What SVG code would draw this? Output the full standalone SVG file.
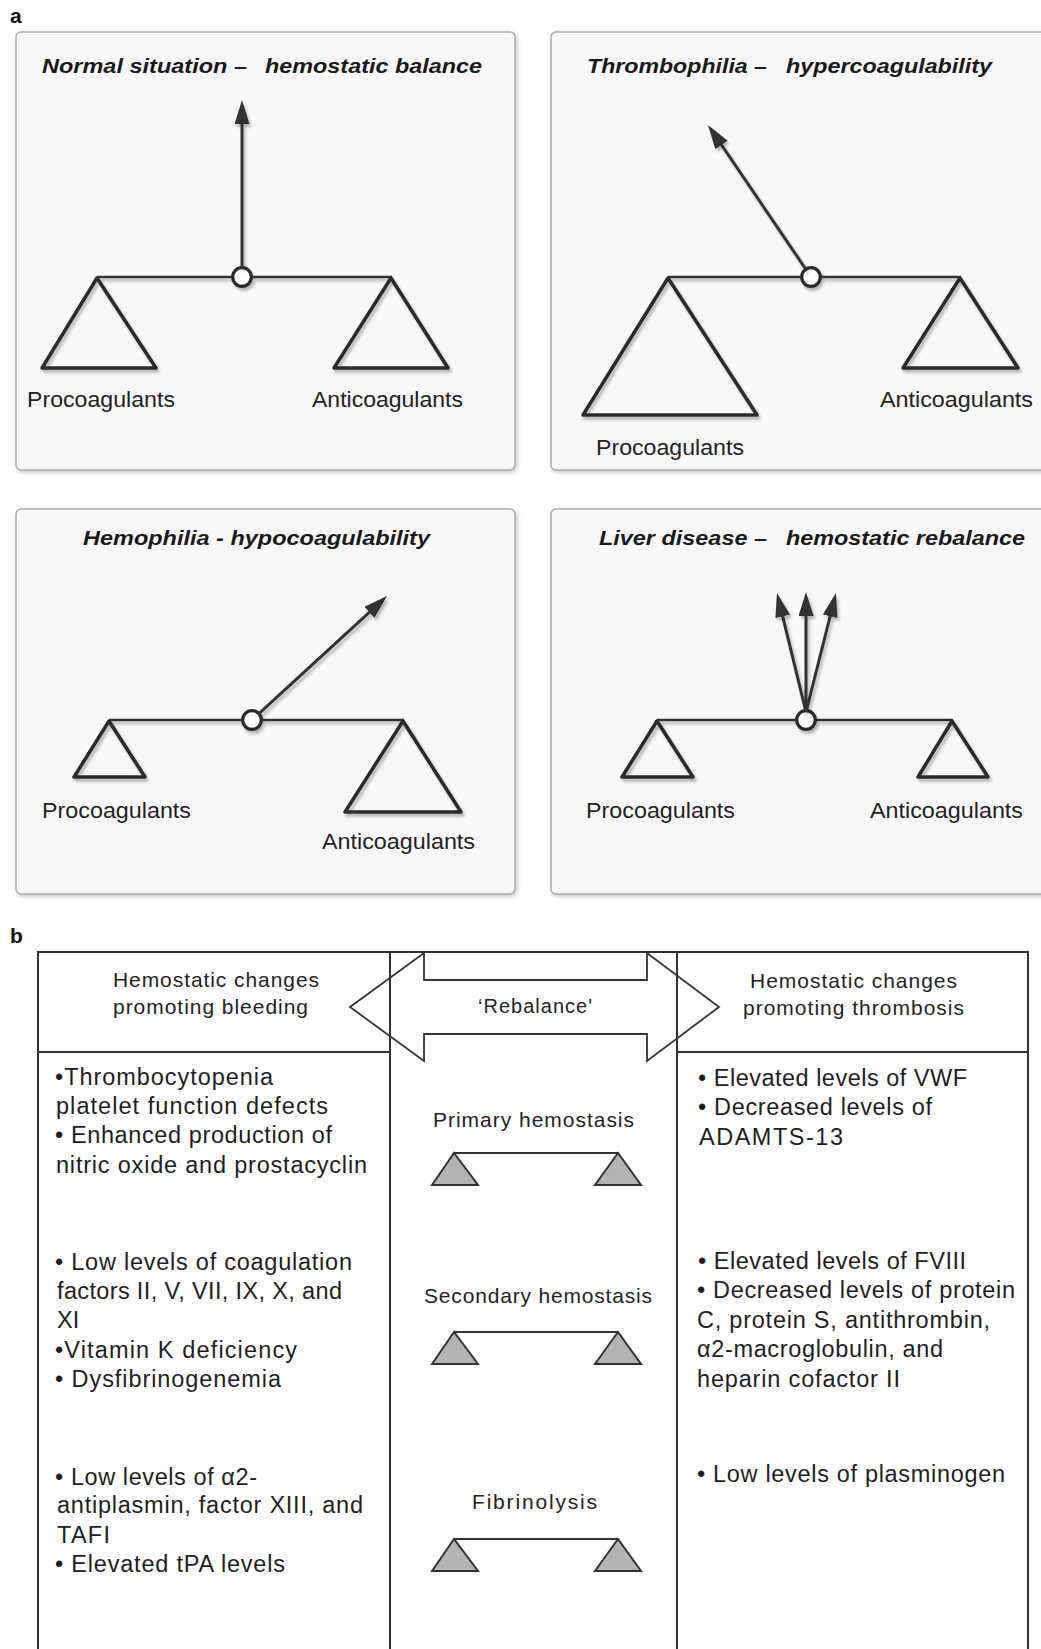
<svg xmlns="http://www.w3.org/2000/svg" width="1041" height="1649" viewBox="0 0 1041 1649">
<defs>
<filter id="psh" x="-5%" y="-5%" width="112%" height="112%"><feDropShadow dx="1.5" dy="2" stdDeviation="2" flood-color="#000" flood-opacity="0.22"/></filter>
<filter id="dsh" x="-20%" y="-20%" width="150%" height="150%"><feDropShadow dx="2" dy="3" stdDeviation="1.8" flood-color="#000" flood-opacity="0.28"/></filter>
<marker id="ah" viewBox="0 0 24 15" refX="18" refY="7.5" markerWidth="24" markerHeight="15" markerUnits="userSpaceOnUse" orient="auto"><path d="M0,0 L24,7.5 L0,15 Z" fill="#333"/></marker>
</defs>
<style>
.panel{fill:#f8f8f8;stroke:#a9a9a9;stroke-width:1.5}
.tri{fill:none;stroke:#2b2b2b;stroke-width:3.5;stroke-linejoin:round}
.beam{stroke:#333;stroke-width:2.4;fill:none}
.piv{fill:#fff;stroke:#2b2b2b;stroke-width:3.2}
.arr{stroke:#333;stroke-width:3;fill:none;marker-end:url(#ah)}
.ttl{font-family:"Liberation Sans",Arial,sans-serif;font-weight:bold;font-style:italic;font-size:21px;fill:#1a1a1a}
.lbl{font-family:"Liberation Sans",Arial,sans-serif;font-size:22px;fill:#222}
.tag{font-family:"Liberation Sans",Arial,sans-serif;font-weight:bold;font-size:21px;fill:#111}
.tbl{stroke:#333;stroke-width:2;fill:none}
.dbl{stroke:#333;stroke-width:1.8;fill:none;stroke-linejoin:miter}
.hd{font-family:"Liberation Sans",Arial,sans-serif;font-size:21px;fill:#222}
.bd{font-family:"Liberation Sans",Arial,sans-serif;font-size:23.5px;fill:#1e1e1e}
.mtri{fill:#b3b3b3;stroke:#333;stroke-width:2}
.mbeam{stroke:#333;stroke-width:2;fill:none}
</style>
<rect x="0" y="0" width="1041" height="1649" fill="#fff"/>

<text class="tag" x="10" y="23">a</text>
<text class="tag" x="10" y="943">b</text>

<!-- Panel 1 -->
<g id="panel-normal">
<rect class="panel" x="16" y="32" width="499" height="438" rx="5" filter="url(#psh)"/>
<text class="ttl" x="42" y="73" textLength="205" lengthAdjust="spacingAndGlyphs">Normal situation –</text>
<text class="ttl" x="265" y="73" textLength="217" lengthAdjust="spacingAndGlyphs">hemostatic balance</text>
<g filter="url(#dsh)">
<path class="beam" d="M97,277 H392"/>
<path class="tri" d="M97,278 L42,368 L156,368 Z"/>
<path class="tri" d="M391,278 L334,368 L448,368 Z"/>
<circle class="piv" cx="242" cy="277" r="9.3"/>
</g>
<text class="lbl" x="27" y="407" textLength="148" lengthAdjust="spacingAndGlyphs">Procoagulants</text>
<text class="lbl" x="312" y="407" textLength="151" lengthAdjust="spacingAndGlyphs">Anticoagulants</text>
</g>

<!-- Panel 2 -->
<g id="panel-thrombophilia">
<rect class="panel" x="551" y="32" width="499" height="438" rx="5" filter="url(#psh)"/>
<text class="ttl" x="587" y="73" textLength="180" lengthAdjust="spacingAndGlyphs">Thrombophilia –</text>
<text class="ttl" x="786" y="73" textLength="206" lengthAdjust="spacingAndGlyphs">hypercoagulability</text>
<g filter="url(#dsh)">
<path class="beam" d="M668,277 H961"/>
<path class="tri" d="M668,278 L583,415 L757,415 Z"/>
<path class="tri" d="M960,278 L903,368 L1018,368 Z"/>
<circle class="piv" cx="811" cy="277" r="9.3"/>
</g>
<text class="lbl" x="880" y="407" textLength="153" lengthAdjust="spacingAndGlyphs">Anticoagulants</text>
<text class="lbl" x="596" y="455" textLength="148" lengthAdjust="spacingAndGlyphs">Procoagulants</text>
</g>

<!-- Panel 3 -->
<g id="panel-hemophilia">
<rect class="panel" x="16" y="509" width="499" height="385" rx="5" filter="url(#psh)"/>
<text class="ttl" x="83" y="545" textLength="347" lengthAdjust="spacingAndGlyphs">Hemophilia - hypocoagulability</text>
<g filter="url(#dsh)">
<path class="beam" d="M109,720 H404"/>
<path class="tri" d="M109,721 L74,777 L145,777 Z"/>
<path class="tri" d="M403,721 L345,812 L461,812 Z"/>
<circle class="piv" cx="252" cy="720" r="9.3"/>
</g>
<text class="lbl" x="42" y="818" textLength="149" lengthAdjust="spacingAndGlyphs">Procoagulants</text>
<text class="lbl" x="322" y="849" textLength="153" lengthAdjust="spacingAndGlyphs">Anticoagulants</text>
</g>

<!-- Panel 4 -->
<g id="panel-liver">
<rect class="panel" x="551" y="509" width="499" height="385" rx="5" filter="url(#psh)"/>
<text class="ttl" x="599" y="545" textLength="168" lengthAdjust="spacingAndGlyphs">Liver disease –</text>
<text class="ttl" x="786" y="545" textLength="239" lengthAdjust="spacingAndGlyphs">hemostatic rebalance</text>
<g filter="url(#dsh)">
<path class="beam" d="M657,720 H953"/>
<path class="tri" d="M657,721 L622,777 L693,777 Z"/>
<path class="tri" d="M952,721 L918,777 L988,777 Z"/>
<circle class="piv" cx="806" cy="720" r="9.3"/>
</g>
<text class="lbl" x="586" y="818" textLength="149" lengthAdjust="spacingAndGlyphs">Procoagulants</text>
<text class="lbl" x="870" y="818" textLength="153" lengthAdjust="spacingAndGlyphs">Anticoagulants</text>
</g>

<!-- Part b table -->
<g id="table">
<path class="tbl" d="M38,952 H1028 M38,951 V1660 M390,952 V1660 M677,952 V1660 M1028,951 V1660 M38,1052 H390 M677,1052 H1028"/>
</g>

<g id="header-bleeding">
<text class="hd" x="113" y="987" textLength="206">Hemostatic changes</text>
<text class="hd" x="113" y="1014" textLength="195">promoting bleeding</text>
</g>
<g id="header-thrombosis">
<text class="hd" x="750" y="988" textLength="207">Hemostatic changes</text>
<text class="hd" x="743" y="1015" textLength="221">promoting thrombosis</text>
</g>
<g id="rebalance">
<text class="hd" x="478" y="1013" textLength="114" style="font-size:20px">‘Rebalance'</text>
</g>

<g id="primary-hemostasis">
<text class="hd" x="433" y="1127" textLength="201">Primary hemostasis</text>
<path class="mbeam" d="M454,1153 H618"/>
<path class="mtri" d="M454,1153 L432,1185 L478,1185 Z"/>
<path class="mtri" d="M618,1153 L595,1185 L641,1185 Z"/>
</g>
<g id="secondary-hemostasis">
<text class="hd" x="424" y="1303" textLength="228">Secondary hemostasis</text>
<path class="mbeam" d="M454,1332 H618"/>
<path class="mtri" d="M454,1332 L432,1364 L478,1364 Z"/>
<path class="mtri" d="M618,1332 L595,1364 L641,1364 Z"/>
</g>
<g id="fibrinolysis">
<text class="hd" x="472" y="1509" textLength="125">Fibrinolysis</text>
<path class="mbeam" d="M454,1539 H618"/>
<path class="mtri" d="M454,1539 L432,1571 L478,1571 Z"/>
<path class="mtri" d="M618,1539 L595,1571 L641,1571 Z"/>
</g>

<g id="bleeding-primary">
<text class="bd" x="55" y="1085" textLength="218">•Thrombocytopenia</text>
<text class="bd" x="56" y="1114" textLength="272">platelet function defects</text>
<text class="bd" x="55" y="1143" textLength="277">• Enhanced production of</text>
<text class="bd" x="56" y="1173" textLength="311">nitric oxide and prostacyclin</text>
</g>
<g id="bleeding-secondary">
<text class="bd" x="55" y="1270" textLength="297">• Low levels of coagulation</text>
<text class="bd" x="57" y="1299" textLength="285">factors II, V, VII, IX, X, and</text>
<text class="bd" x="57" y="1328">XI</text>
<text class="bd" x="55" y="1358" textLength="242">•Vitamin K deficiency</text>
<text class="bd" x="55" y="1387" textLength="226">• Dysfibrinogenemia</text>
</g>
<g id="bleeding-fibrinolysis">
<text class="bd" x="55" y="1485" textLength="202">• Low levels of α2-</text>
<text class="bd" x="57" y="1513" textLength="306">antiplasmin, factor XIII, and</text>
<text class="bd" x="57" y="1543" textLength="53">TAFI</text>
<text class="bd" x="55" y="1572" textLength="230">• Elevated tPA levels</text>
</g>

<g id="thrombosis-primary">
<text class="bd" x="698" y="1086" textLength="269">• Elevated levels of VWF</text>
<text class="bd" x="698" y="1115" textLength="234">• Decreased levels of</text>
<text class="bd" x="699" y="1145" textLength="144">ADAMTS-13</text>
</g>
<g id="thrombosis-secondary">
<text class="bd" x="698" y="1269" textLength="268">• Elevated levels of FVIII</text>
<text class="bd" x="697" y="1298" textLength="318">• Decreased levels of protein</text>
<text class="bd" x="697" y="1328" textLength="293">C, protein S, antithrombin,</text>
<text class="bd" x="697" y="1357" textLength="246">α2-macroglobulin, and</text>
<text class="bd" x="697" y="1387" textLength="203">heparin cofactor II</text>
</g>
<g id="thrombosis-fibrinolysis">
<text class="bd" x="697" y="1482" textLength="308">• Low levels of plasminogen</text>
</g>

<!-- Connectors -->
<g id="connectors">
<g filter="url(#dsh)">
<path class="arr" d="M242,268 V106"/>
<path class="arr" d="M806,269.5 L711.4,130"/>
<path class="arr" d="M258.6,713.9 L382.6,600.1"/>
<path class="arr" d="M806,712 L778.4,598.8"/>
<path class="arr" d="M806,712 V598"/>
<path class="arr" d="M806,712 L834.5,598.8"/>
</g>
<path class="dbl" d="M350,1007 L424,953 L424,980 L647,980 L647,953 L719,1007 L647,1061 L647,1034 L424,1034 L424,1061 Z"/>
</g>
</svg>
